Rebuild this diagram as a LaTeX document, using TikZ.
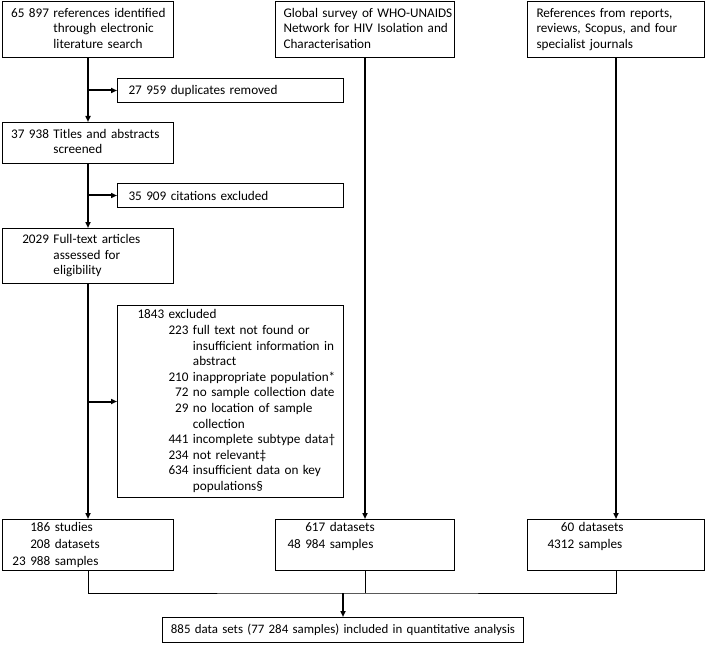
\documentclass[tikz,border=0pt]{standalone}
\usepackage{fontspec}
\setmainfont{Carlito}
\usetikzlibrary{arrows.meta}
\newcommand{\lead}[1]{\makebox[2.77em][r]{#1}}

\begin{document}
\begin{tikzpicture}[x=1pt,y=-1pt,>={Triangle[length=6pt,width=5pt]},
  every node/.style={font=\fontsize{13.2}{15.6}\selectfont},
  box/.style={draw,line width=1pt,anchor=north west,inner ysep=0pt,align=left},
  flow/.style={line width=2pt,->},
  merge/.style={line width=1pt}]
  \useasboundingbox (0,0) rectangle (708,644);
  % electronic search column
  \node[box,minimum width=171pt,minimum height=56pt,text width=151pt,inner xsep=10pt] (search) at (2,1)
    {\begin{tabular}{@{}l@{\ }l@{}}\lead{65 897} & references identified\\ & through electronic\\ & literature search\end{tabular}};
  \node[box,minimum width=226pt,minimum height=24pt,text width=204pt,inner xsep=11pt] (dup) at (117,78)
    {27 959 duplicates removed};
  \node[box,minimum width=171pt,minimum height=41pt,text width=151pt,inner xsep=10pt] (screen) at (2,122)
    {\begin{tabular}{@{}l@{\ }l@{}}\lead{37 938} & Titles and abstracts\\ & screened\end{tabular}};
  \node[box,minimum width=226pt,minimum height=24pt,text width=204pt,inner xsep=11pt] (cit) at (117,183)
    {35 909 citations excluded};
  \node[box,minimum width=171pt,minimum height=55pt,text width=151pt,inner xsep=10pt] (full) at (2,228)
    {\begin{tabular}{@{}l@{\ }l@{}}\lead{2029} & Full-text articles\\ & assessed for\\ & eligibility\end{tabular}};
  \node[box,minimum width=226pt,minimum height=192pt,text width=186pt,inner xsep=20pt] (excl) at (117,305)
    {\begin{tabular}{@{\hspace{31pt}}r@{\ }l@{}}
      \multicolumn{2}{@{}l@{}}{1843 excluded}\\
      223 & full text not found or\\
          & insufficient information in\\
          & abstract\\
      210 & inappropriate population*\\
       72 & no sample collection date\\
       29 & no location of sample\\
          & collection\\
      441 & incomplete subtype data†\\
      234 & not relevant‡\\
      634 & insufficient data on key\\
          & populations§
    \end{tabular}};
  % other sources
  \node[box,minimum width=179pt,minimum height=56pt,text width=163pt,inner xsep=8pt] (who) at (275,1)
    {\begin{tabular}{@{}l@{}}Global survey of WHO-UNAIDS\\ Network for HIV Isolation and\\ Characterisation\end{tabular}};
  \node[box,minimum width=177pt,minimum height=56pt,text width=159pt,inner xsep=9pt] (rep) at (527,1)
    {\begin{tabular}{@{}l@{}}References from reports,\\ reviews, Scopus, and four\\ specialist journals\end{tabular}};
  % results
  \node[box,minimum width=171pt,minimum height=51pt,text width=151pt,inner xsep=10pt,font=\fontsize{13.2}{17}\selectfont] (stud) at (2,519)
    {\begin{tabular}{@{}r@{\ }l@{}}186 & studies\\ 208 & datasets\\ 23 988 & samples\end{tabular}};
  \node[box,minimum width=179pt,minimum height=51pt,text width=155pt,inner xsep=12pt,font=\fontsize{13.2}{17}\selectfont] (set617) at (275,519)
    {\begin{tabular}{@{}r@{\ }l@{}}617 & datasets\\ 48 984 & samples\\ & \end{tabular}};
  \node[box,minimum width=177pt,minimum height=51pt,text width=137pt,inner xsep=20pt,font=\fontsize{13.2}{17}\selectfont] (set60) at (527,519)
    {\begin{tabular}{@{}r@{\ }l@{}}60 & datasets\\ 4312 & samples\\ & \end{tabular}};
  \node[box,align=center,minimum width=361pt,minimum height=25pt,text width=345pt,inner xsep=8pt,font=\fontsize{12.9}{15.6}\selectfont] (final) at (162,617)
    {\begin{tabular}{@{}c@{}}885 data sets (77 284 samples) included in quantitative analysis\end{tabular}};
  \coordinate (join) at (final.north |- 0,593);
  % connectors
  \draw[flow] (search) -- (screen);
  \draw[flow] (screen) -- (full);
  \draw[flow] (full) -- (stud);
  \draw[flow] (search.south |- dup.west) -- (dup.west);
  \draw[flow] (screen.south |- cit.west) -- (cit.west);
  \draw[flow] (full.south |- excl.west) -- (excl.west);
  \draw[flow] (who) -- (set617);
  \draw[flow] (rep) -- (set60);
  \draw[merge] (stud.south) |- (join) -| (set60.south);
  \draw[merge] (set617.south) -- (set617.south |- join);
  \draw[flow] (join) -- (final.north);
\end{tikzpicture}
\end{document}
